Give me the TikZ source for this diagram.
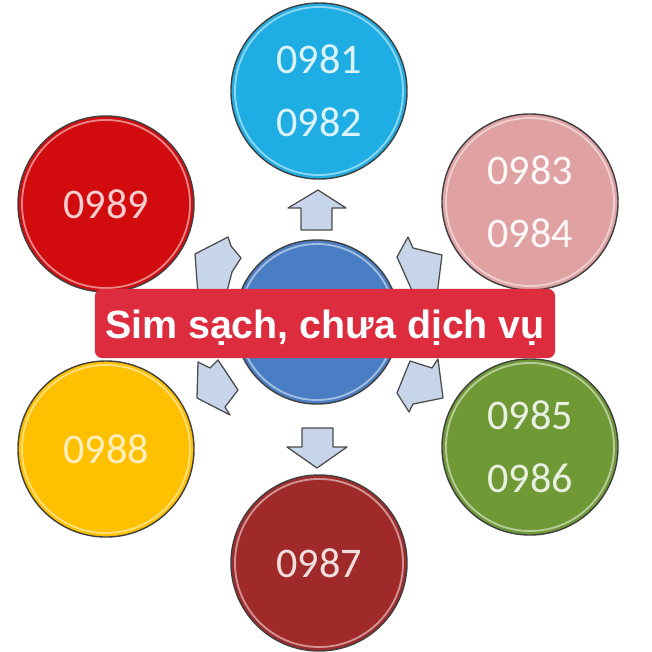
\documentclass[tikz,border=0pt]{standalone}
\usepackage{fontspec}
\setmainfont{Carlito}
\newfontfamily\bannerfont{Liberation Sans}
\usetikzlibrary{positioning}
\definecolor{simCyan}{HTML}{1EAEE4}
\definecolor{simRed}{HTML}{D20C0E}
\definecolor{simPink}{HTML}{DFA1A1}
\definecolor{simGreen}{HTML}{6E9935}
\definecolor{simGold}{HTML}{FFC000}
\definecolor{simMaroon}{HTML}{A02A2A}
\definecolor{hubBlue}{HTML}{4A7EC4}
\definecolor{arrowBlue}{HTML}{C7D5EA}
\definecolor{bannerRed}{HTML}{DC2C3E}

\begin{document}
\begin{tikzpicture}[x=0.025cm,y=-0.025cm,
  sim/.style={circle, draw=black!75, line width=1pt, minimum size=4.4cm, inner sep=0pt,
              align=center, font=\fontsize{30}{45}\selectfont},
  rim/.style={draw=white, opacity=.5, line width=1.3pt},
  blockarrow/.style={fill=arrowBlue, draw=black!70, line width=0.9pt, line join=round}]
\useasboundingbox (0,0) rectangle (652,652);
\fill[white] (0,0) rectangle (652,652);

% centre
\node[sim, fill=hubBlue, minimum size=4.1cm] (hub) at (317,322) {};
\draw[rim] (hub.center) circle (1.95cm);

% arrows
\draw[blockarrow] (318,190) -- (346,208) -- (332,208) -- (332,230) -- (301,230) -- (301,208) -- (288,208) -- cycle;
\draw[blockarrow] (317,468) -- (347,447) -- (333,447) -- (333,428) -- (302,428) -- (302,447) -- (287,447) -- cycle;
\draw[blockarrow] (195,254) -- (228,237) -- (231,246) -- (241,258) -- (232,272) -- (226,295) -- (198,295) -- cycle;
\draw[blockarrow] (397,257) -- (408,237) -- (413,248) -- (442,255) -- (437,295) -- (414,295) -- cycle;
\draw[blockarrow] (198,362) -- (210,368) -- (218,360) -- (238,390) -- (225,407) -- (230,415) -- (197,398) -- cycle;
\draw[blockarrow] (410,361) -- (432,368) -- (438,359) -- (443,398) -- (413,404) -- (409,412) -- (397,393) -- cycle;

% outer circles
\node[sim, fill=simCyan, text=white!85!simCyan]    (sim8182) at (319,91)  {0981\\0982};
\node[sim, fill=simPink, text=white!92!simPink]    (sim8384) at (530,202) {0983\\0984};
\node[sim, fill=simGreen, text=white!85!simGreen]  (sim8586) at (530,447) {0985\\0986};
\node[sim, fill=simMaroon, text=white!85!simMaroon] (sim87)  at (319,563) {0987};
\node[sim, fill=simGold, text=white!75!simGold]    (sim88)   at (106,449) {0988};
\node[sim, fill=simRed, text=white!80!simRed]      (sim89)   at (106,204) {0989};
\foreach \n in {sim8182,sim8384,sim8586,sim87,sim88,sim89}
  \draw[rim] (\n.center) circle (2.1cm);

% banner
\node[fill=bannerRed, rounded corners=5pt, minimum width=11.5cm, minimum height=1.725cm,
      text height=0.725cm, text depth=0cm, text=white,
      font=\bannerfont\bfseries\fontsize{28}{28}\selectfont] (banner) at (325,323.5) {Sim sạch, chưa dịch vụ};
\end{tikzpicture}
\end{document}
